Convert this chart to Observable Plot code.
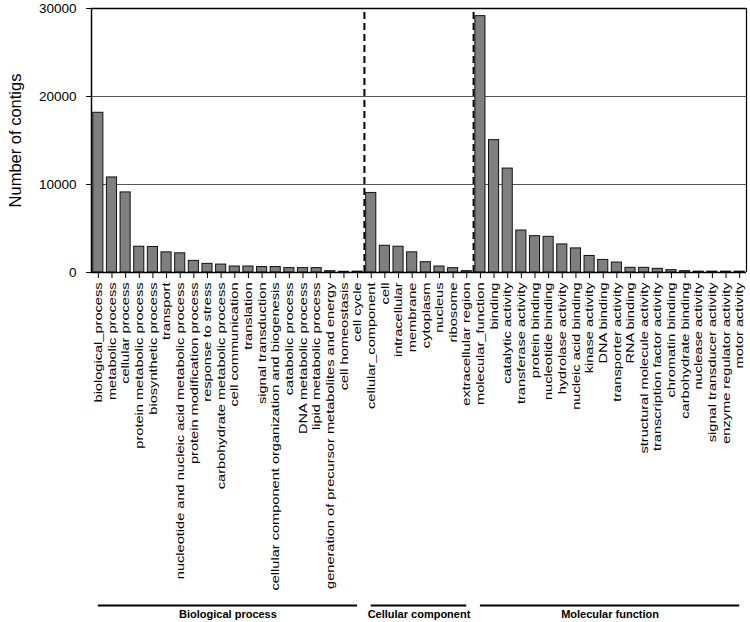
<!DOCTYPE html>
<html><head><meta charset="utf-8">
<script src="https://cdn.jsdelivr.net/npm/d3@7"></script>
<script src="https://cdn.jsdelivr.net/npm/@observablehq/plot@0.6"></script>
<style>body{margin:0;background:#fff}#chart svg{display:block}</style>
</head><body><div id="chart"></div>
<script>
const bioCategories = ["biological_process","metabolic process","cellular process","protein metabolic process","biosynthetic process","transport","nucleotide and nucleic acid metabolic process","protein modification process","response to stress","carbohydrate metabolic process","cell communication","translation","signal transduction","cellular component organization and biogenesis","catabolic process","DNA metabolic process","lipid metabolic process","generation of precursor metabolites and energy","cell homeostasis","cell cycle"];
const bioValues = [18150,10800,9100,2930,2900,2290,2180,1320,980,900,680,680,620,620,500,500,500,150,80,100];
const ccCategories = ["cellular_component","cell","intracellular","membrane","cytoplasm","nucleus","ribosome","extracellular region"];
const ccValues = [9040,3040,2930,2290,1170,680,490,150];
const mfCategories = ["molecular_function","binding","catalytic activity","transferase activity","protein binding","nucleotide binding","hydrolase activity","nucleic acid binding","kinase activity","DNA binding","transporter activity","RNA binding","structural molecule activity","transcription factor activity","chromatin binding","carbohydrate binding","nuclease activity","signal transducer activity","enzyme regulator activity","motor activity"];
const mfValues = [29130,15040,11810,4770,4130,4050,3190,2740,1880,1430,1130,530,530,420,270,150,100,100,100,100];
const groupNames = ["Biological process","Cellular component","Molecular function"];
const yTicks = [0,10000,20000,30000];
const yLabel = "Number of contigs";

const groups = [
  {name: groupNames[0], cats: bioCategories, vals: bioValues},
  {name: groupNames[1], cats: ccCategories, vals: ccValues},
  {name: groupNames[2], cats: mfCategories, vals: mfValues}
];
const data = [];
const spans = [];
groups.forEach(g => {
  const start = data.length;
  g.cats.forEach((c, k) => data.push({i: data.length, category: c, value: g.vals[k], group: g.name}));
  const last = data.length - 1;
  spans.push({name: g.name, first: start, last: last, mid: (start + last) / 2});
});
const n = data.length;
const boundaries = spans.slice(1).map(s => s.first - 0.5);
const half = 0.37;
const yMid = (yTicks[0] + yTicks[yTicks.length - 1]) / 2;

const plot = Plot.plot({
  width: 750, height: 622,
  marginLeft: 91, marginRight: 4, marginTop: 8, marginBottom: 350,
  style: {fontFamily: "'Liberation Sans', Arial, Helvetica, sans-serif", fontSize: "12px", color: "#000", background: "#fff"},
  x: {type: "linear", domain: [-0.5, n - 0.5], axis: null},
  y: {domain: [0, 30000], axis: null},
  marks: [
    Plot.ruleY(yTicks.filter(t => t > 0 && t < 30000), {stroke: "#555", strokeWidth: 1}),
    Plot.ruleY([30000], {stroke: "#000", strokeWidth: 1.5}),
    Plot.ruleX([n - 0.5], {stroke: "#000", strokeWidth: 1.2}),
    Plot.ruleX(boundaries, {y1: 0, y2: 30000, stroke: "#000", strokeWidth: 2, strokeDasharray: "7,4"}),
    Plot.rectY(data, {x1: d => d.i - half, x2: d => d.i + half, y: "value", fill: "#7f7f7f", stroke: "#111", strokeWidth: 1}),
    Plot.ruleX([-0.5], {stroke: "#000", strokeWidth: 1.5}),
    Plot.ruleY([0], {stroke: "#000", strokeWidth: 1.5}),
    Plot.axisX({ticks: data.map(d => d.i), tickFormat: i => data[i].category, tickRotate: -90, tickSize: 6, tickPadding: 4, fontSize: 11.5, stroke: "#000"}),
    Plot.axisY({ticks: yTicks, tickFormat: d3.format("d"), tickSize: 5, tickPadding: 10, fontSize: 13.5, label: null}),
    Plot.text([yLabel], {x: () => -0.5, y: () => yMid, rotate: -90, dx: -76, fontSize: 16.5}),
    Plot.ruleY(spans, {x1: "first", x2: "last", y: d => 0, dy: 333, stroke: "#000", strokeWidth: 2}),
    Plot.text(spans, {x: "mid", y: d => 0, text: "name", dy: 342, fontSize: 11, fontWeight: "bold"})
  ]
});
// stretch the rotated category labels along their baseline, as in the reference
plot.querySelectorAll('g[aria-label="x-axis tick label"] text').forEach(t => {
  const tr = t.getAttribute("transform") || "";
  t.setAttribute("transform", tr + " scale(1.27,1)");
});
document.getElementById("chart").appendChild(plot);
</script>
</body></html>
